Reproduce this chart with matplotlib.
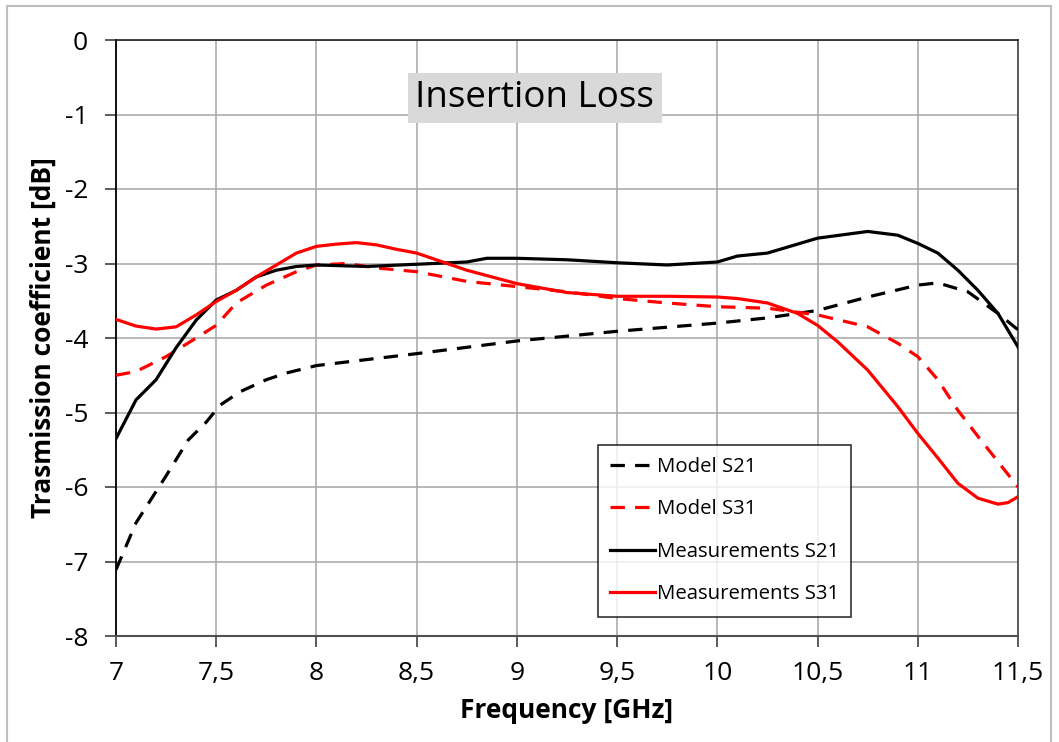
import matplotlib
matplotlib.use("Agg")
import matplotlib.pyplot as plt
from matplotlib.lines import Line2D

# ---------------- data ----------------
f_model_s21 = [7.0, 7.1, 7.25, 7.36, 7.45, 7.52, 7.62, 7.75, 7.85, 8.0, 8.5, 9.0, 9.5, 10.0, 10.25, 10.5, 10.75, 11.0, 11.1, 11.25, 11.4, 11.5]
model_s21 = [-7.11, -6.48, -5.85, -5.37, -5.13, -4.90, -4.72, -4.56, -4.47, -4.37, -4.21, -4.04, -3.91, -3.80, -3.73, -3.63, -3.45, -3.29, -3.26, -3.38, -3.67, -3.89]

f_model_s31 = [7.0, 7.1, 7.25, 7.4, 7.5, 7.6, 7.75, 7.9, 8.0, 8.15, 8.3, 8.5, 8.75, 9.0, 9.25, 9.5, 9.75, 10.0, 10.25, 10.5, 10.75, 10.9, 11.0, 11.1, 11.2, 11.3, 11.4, 11.5]
model_s31 = [-4.50, -4.45, -4.25, -4.00, -3.83, -3.53, -3.29, -3.11, -3.02, -3.00, -3.06, -3.11, -3.24, -3.31, -3.38, -3.47, -3.53, -3.58, -3.60, -3.69, -3.85, -4.07, -4.25, -4.56, -4.97, -5.32, -5.66, -6.00]

f_meas_s21 = [7.0, 7.1, 7.2, 7.3, 7.4, 7.5, 7.6, 7.7, 7.8, 7.9, 8.0, 8.25, 8.5, 8.75, 8.85, 9.0, 9.25, 9.5, 9.75, 10.0, 10.1, 10.25, 10.5, 10.75, 10.9, 11.0, 11.1, 11.2, 11.3, 11.4, 11.5]
meas_s21 = [-5.35, -4.83, -4.56, -4.13, -3.76, -3.49, -3.36, -3.18, -3.09, -3.04, -3.02, -3.04, -3.01, -2.98, -2.93, -2.93, -2.95, -2.99, -3.02, -2.98, -2.90, -2.86, -2.66, -2.57, -2.62, -2.73, -2.86, -3.09, -3.36, -3.67, -4.12]

f_meas_s31 = [7.0, 7.1, 7.2, 7.3, 7.4, 7.5, 7.6, 7.7, 7.8, 7.9, 8.0, 8.1, 8.2, 8.3, 8.4, 8.5, 8.75, 9.0, 9.25, 9.5, 9.75, 10.0, 10.1, 10.25, 10.4, 10.5, 10.6, 10.75, 10.9, 11.0, 11.1, 11.2, 11.3, 11.4, 11.45, 11.5]
meas_s31 = [-3.75, -3.84, -3.88, -3.85, -3.69, -3.51, -3.36, -3.18, -3.02, -2.86, -2.77, -2.74, -2.72, -2.75, -2.81, -2.86, -3.09, -3.27, -3.39, -3.44, -3.44, -3.45, -3.47, -3.53, -3.67, -3.83, -4.05, -4.43, -4.92, -5.28, -5.61, -5.95, -6.15, -6.23, -6.21, -6.13]

x_ticks = [7, 7.5, 8, 8.5, 9, 9.5, 10, 10.5, 11, 11.5]
x_tick_labels = ["7", "7,5", "8", "8,5", "9", "9,5", "10", "10,5", "11", "11,5"]
y_ticks = [0, -1, -2, -3, -4, -5, -6, -7, -8]
y_tick_labels = ["0", "-1", "-2", "-3", "-4", "-5", "-6", "-7", "-8"]

labels = ["Model S21", "Model S31", "Measurements S21", "Measurements S31"]

# ---------------- figure ----------------
plt.rcParams['font.family'] = ['Open Sans', 'DejaVu Sans']
fig = plt.figure(figsize=(10.59, 7.42), dpi=100)
ax = fig.add_axes([116/1059, 1-636/742, (1018-116)/1059, (636-40)/742])

lw = 2.3
dash = (4.5, 3.2)
ax.plot(f_model_s21, model_s21, color='black', lw=lw, dashes=dash, label=labels[0], zorder=3)
ax.plot(f_model_s31, model_s31, color='#ff0000', lw=lw, dashes=dash, label=labels[1], zorder=3)
ax.plot(f_meas_s21, meas_s21, color='black', lw=lw, label=labels[2], zorder=4)
ax.plot(f_meas_s31, meas_s31, color='#ff0000', lw=lw, label=labels[3], zorder=4)

ax.set_xlim(7, 11.5)
ax.set_ylim(-8, 0)
ax.set_xticks(x_ticks)
ax.set_xticklabels(x_tick_labels)
ax.set_yticks(y_ticks)
ax.set_yticklabels(y_tick_labels)
ax.grid(True, color='#a6a6a6', lw=1.1)
ax.set_axisbelow(True)

ax.tick_params(axis='both', labelsize=19, length=8, width=1.2, color='#404040')
ax.tick_params(axis='y', pad=12)
ax.tick_params(axis='x', pad=10)

ax.spines['left'].set_color('black')
ax.spines['left'].set_linewidth(1.3)
ax.spines['bottom'].set_color('#505050')
ax.spines['bottom'].set_linewidth(1.5)
ax.spines['top'].set_color('#202020')
ax.spines['top'].set_linewidth(1.2)
ax.spines['right'].set_color('#505050')
ax.spines['right'].set_linewidth(1.3)

ax.set_xlabel("Frequency [GHz]", fontsize=19, fontweight='bold', labelpad=8)
ax.set_ylabel("Trasmission coefficient [dB]", fontsize=19, fontweight='bold', labelpad=6)

ax.text(9.09, -0.78, "Insertion Loss", fontsize=26.5, ha='center', va='center',
        bbox=dict(boxstyle='square,pad=0.2', facecolor='#d9d9d9', edgecolor='none'), zorder=5)

leg = ax.legend(loc='upper left', bbox_to_anchor=(0.534, 0.321), fontsize=14.7,
                frameon=True, fancybox=False, edgecolor='black', handlelength=2.2,
                handletextpad=0.1, labelspacing=1.1, borderpad=0.6, borderaxespad=0)
leg.get_frame().set_linewidth(1.2)
leg.set_zorder(6)

# outer frame
fc = '#bfbfbf'
fig.add_artist(Line2D([7/1059, 7/1059], [0, 1-6/742], color=fc, lw=1.5))
fig.add_artist(Line2D([7/1059, 1051/1059], [1-6/742, 1-6/742], color=fc, lw=1.5))
fig.add_artist(Line2D([1051/1059, 1051/1059], [0, 1-6/742], color=fc, lw=1.5))

fig.savefig("out.png", dpi=100)
